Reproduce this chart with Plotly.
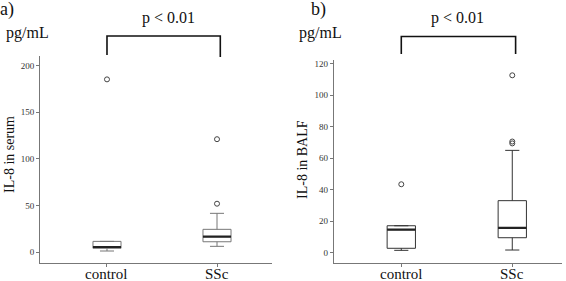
import plotly.graph_objects as go

W, H = 566, 281
groups = ["control", "SSc"]
xpos = [1, 2]

# Panel a: IL-8 in serum (pg/mL)
a_lower = [1.4, 6.4]
a_q1 = [4.3, 11.3]
a_median = [5.7, 16.7]
a_q3 = [11.7, 24.6]
a_upper = [11.7, 41.7]
a_out_x = [1, 2, 2]
a_out_y = [185, 121, 52]

# Panel b: IL-8 in BALF (pg/mL)
b_lower = [1.5, 1.7]
b_q1 = [2.8, 9.5]
b_median = [14.6, 15.7]
b_q3 = [17.1, 33.0]
b_upper = [17.1, 64.9]
b_out_x = [1, 2, 2, 2]
b_out_y = [43.4, 112.5, 70.5, 69.3]

a_ticks = [0, 50, 100, 150, 200]
b_ticks = [0, 20, 40, 60, 80, 100, 120]

SERIF = "Liberation Serif, Times New Roman, serif"

def px(x):
    return x / W

def py(y):
    return 1 - y / H

fig = go.Figure()

def add_panel(xa, ya, lower, q1, med, q3, upper, ox, oy, boxcol):
    fig.add_trace(go.Box(
        x=xpos, lowerfence=lower, q1=q1, median=med, q3=q3, upperfence=upper,
        xaxis=xa, yaxis=ya, width=0.255, whiskerwidth=0.5,
        line=dict(color=boxcol, width=1), fillcolor="white",
        boxpoints=False, showlegend=False, hoverinfo="skip"))
    for xi, m in zip(xpos, med):
        fig.add_trace(go.Scatter(
            x=[xi - 0.1275, xi + 0.1275], y=[m, m], mode="lines",
            line=dict(color="#222", width=2.2), xaxis=xa, yaxis=ya,
            showlegend=False, hoverinfo="skip"))
    fig.add_trace(go.Scatter(
        x=ox, y=oy, mode="markers", xaxis=xa, yaxis=ya,
        marker=dict(symbol="circle-open", size=5, color="#444", line=dict(width=1)),
        showlegend=False, hoverinfo="skip"))

add_panel("x", "y", a_lower, a_q1, a_median, a_q3, a_upper, a_out_x, a_out_y, "#777")
add_panel("x2", "y2", b_lower, b_q1, b_median, b_q3, b_upper, b_out_x, b_out_y, "#333")

axis_common = dict(showgrid=False, zeroline=False, showline=True, linecolor="#777",
                   linewidth=1, ticks="outside", ticklen=3, tickcolor="#777")

fig.update_layout(
    width=W, height=H, margin=dict(l=0, r=0, t=0, b=0),
    paper_bgcolor="white", plot_bgcolor="white",
    font=dict(family=SERIF, color="#111"),
    xaxis=dict(domain=[px(40), px(272)], range=[0.391, 2.5], tickvals=xpos,
               showticklabels=False, anchor="y", **axis_common),
    yaxis=dict(domain=[py(262.7), py(56)], range=[-11.1, 210], tickvals=a_ticks,
               tickfont=dict(size=9, family=SERIF, color="#333"), anchor="x",
               **axis_common),
    xaxis2=dict(domain=[px(333.7), px(562)], range=[0.391, 2.448], tickvals=xpos,
                showticklabels=False, anchor="y2", **axis_common),
    yaxis2=dict(domain=[py(262.7), py(60)], range=[-6.34, 122.2], tickvals=b_ticks,
                tickfont=dict(size=9, family=SERIF, color="#333"), anchor="x2",
                **axis_common),
)

# category labels
for xr in ["x", "x2"]:
    for xi, g in zip(xpos, groups):
        fig.add_annotation(text=g, x=xi, y=py(274.3), xref=xr, yref="paper",
                           showarrow=False, xanchor="center", yanchor="middle",
                           font=dict(size=15, family=SERIF, color="#111"))

# brackets
for xr, top, bl, br in [("x", 36, 55, 57), ("x2", 36.5, 54, 54)]:
    fig.add_shape(type="path", xref=xr, yref="paper",
                  path=f"M 1 {py(bl)} L 1 {py(top)} L 2.03 {py(top)} L 2.03 {py(br)}",
                  line=dict(color="#111", width=1.6))

ann = [
    dict(text="p < 0.01", x=px(168), y=py(18), size=16),
    dict(text="p < 0.01", x=px(457), y=py(18), size=16),
    dict(text="a)", x=px(7), y=py(10), size=18),
    dict(text="b)", x=px(318), y=py(10), size=18),
    dict(text="pg/mL", x=px(27.5), y=py(33), size=16),
    dict(text="pg/mL", x=px(320), y=py(33), size=16),
]
for a in ann:
    fig.add_annotation(text=a["text"], x=a["x"], y=a["y"], xref="paper", yref="paper",
                       showarrow=False, xanchor="center", yanchor="middle",
                       font=dict(size=a["size"], family=SERIF, color="#111"))

fig.add_annotation(text="IL-8 in serum", x=px(9), y=py(155), xref="paper", yref="paper",
                   showarrow=False, textangle=-90, xanchor="center", yanchor="middle",
                   font=dict(size=14, family=SERIF, color="#111"))
fig.add_annotation(text="IL-8 in BALF", x=px(302), y=py(160), xref="paper", yref="paper",
                   showarrow=False, textangle=-90, xanchor="center", yanchor="middle",
                   font=dict(size=14, family=SERIF, color="#111"))

fig.write_html("out.html", config={"displayModeBar": False},
               post_script="document.body.style.margin='0';document.body.style.overflow='hidden';")
